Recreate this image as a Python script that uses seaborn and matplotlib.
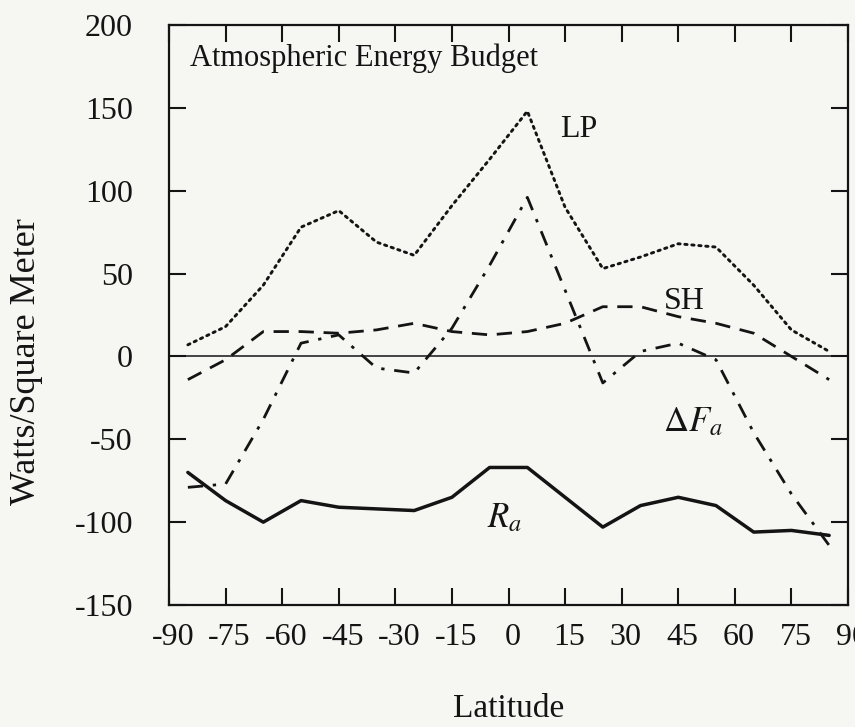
import matplotlib
matplotlib.use("Agg")
import matplotlib.pyplot as plt
import matplotlib.transforms as mtransforms
import numpy as np
import pandas as pd
import seaborn as sns

# Zonal-mean atmospheric energy budget terms (W/m^2) at 10-degree latitude bands
latitude = [-85, -75, -65, -55, -45, -35, -25, -15, -5, 5, 15, 25, 35, 45, 55, 65, 75, 85]
lp = [7, 18, 43, 78, 88, 69, 61, 91, 119, 148, 90, 53, 60, 68, 66, 43, 16, 3]
sh = [-14, -2, 15, 15, 14, 16, 20, 15, 13, 15, 20, 30, 30, 24, 20, 14, 0, -14]
dfa = [-79, -77, -38, 8, 13, -7, -10, 17, 55, 96, 40, -16, 3, 8, -2, -46, -83, -114]
ra = [-70, -87, -100, -87, -91, -92, -93, -85, -67, -67, -85, -103, -90, -85, -90, -106, -105, -108]

x_ticks = list(range(-90, 91, 15))
x_tick_labels = [str(v) for v in x_ticks]
y_ticks = list(range(-150, 201, 50))
y_tick_labels = [str(v) for v in y_ticks]

sns.set_style("ticks")
plt.rcParams["font.family"] = ["Liberation Serif", "DejaVu Serif"]
plt.rcParams["mathtext.fontset"] = "stix"

bg = "#f6f6f3"
ink = "#141414"

fig = plt.figure(figsize=(8.55, 7.27), dpi=100, facecolor=bg)
ax = fig.add_axes([169 / 855, 1 - 605 / 727, 679 / 855, 580 / 727])
ax.set_facecolor(bg)

df = pd.DataFrame({"lat": latitude, "LP": lp, "SH": sh, "dFa": dfa, "Ra": ra})

# zero reference line
ax.axhline(0, color=ink, lw=1.1, zorder=1)

sns.lineplot(data=df, x="lat", y="LP", ax=ax, color=ink, lw=2.1,
             linestyle=(0, (0.8, 1.6)), dash_capstyle="round", zorder=3)
sns.lineplot(data=df, x="lat", y="SH", ax=ax, color=ink, lw=2.0,
             linestyle=(0, (5.5, 3.5)), zorder=3)
sns.lineplot(data=df, x="lat", y="dFa", ax=ax, color=ink, lw=2.0,
             linestyle=(0, (5.5, 3.5, 1.2, 3.5)), zorder=3)
sns.lineplot(data=df, x="lat", y="Ra", ax=ax, color=ink, lw=2.5,
             linestyle="-", zorder=3)

ax.set_xlim(-90, 90)
ax.set_ylim(-150, 200)
ax.set_xticks(x_ticks)
ax.set_xticklabels(x_tick_labels)
ax.set_yticks(y_ticks)
ax.set_yticklabels(y_tick_labels)

ax.tick_params(direction="in", length=12, width=1.5, top=True, right=True,
               colors=ink)
ax.tick_params(axis="x", pad=13, labelsize=23)
ax.tick_params(axis="y", pad=26, labelsize=23)

for side in ["left", "right", "top", "bottom"]:
    ax.spines[side].set_visible(True)
    ax.spines[side].set_linewidth(1.6)
    ax.spines[side].set_color(ink)

# latitude labels sit a little to the right of their ticks
shift = mtransforms.ScaledTranslation(4 / 100, 0, fig.dpi_scale_trans)
for lbl in ax.get_xticklabels():
    lbl.set_transform(lbl.get_transform() + shift)

ax.set_xlabel("Latitude", fontsize=24, color=ink, labelpad=30)
ax.set_ylabel("Watts/Square Meter", fontsize=26, color=ink)
ax.yaxis.set_label_coords(-0.185, 0.42)

ax.text(0.031, 0.968, "Atmospheric Energy Budget", transform=ax.transAxes,
        ha="left", va="top", fontsize=22, color=ink)

# series annotations
ax.text(18.5, 137, "LP", fontsize=23, color=ink, ha="center", va="center")
ax.text(46.5, 33, "SH", fontsize=23, color=ink, ha="center", va="center")
ax.text(49, -40, r"$\Delta F_a$", fontsize=25, color=ink, ha="center", va="center")
ax.text(-1, -98, r"$R_a$", fontsize=25, color=ink, ha="center", va="center")

fig.savefig("out.png", dpi=100, facecolor=bg)
